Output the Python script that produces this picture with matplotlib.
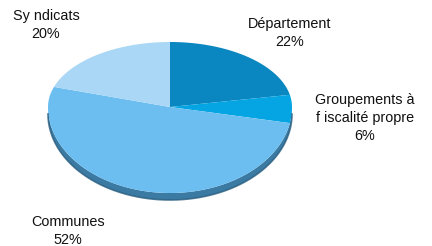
import numpy as np
import matplotlib
matplotlib.use("Agg")
import matplotlib.pyplot as plt
from matplotlib.patches import Polygon

# Data
categories = ["Département", "Groupements à\nf iscalité propre", "Communes", "Sy ndicats"]
values = [22, 6, 52, 20]
labels = ["Département\n22%", "Groupements à\nf iscalité propre\n6%", "Communes\n52%", "Sy ndicats\n20%"]
colors = ["#0A87C0", "#04A5E2", "#6CBEF0", "#AAD7F5"]

W, H = 432, 246
fig = plt.figure(figsize=(W / 100, H / 100), dpi=100)
ax = fig.add_axes([0, 0, 1, 1])
ax.set_xlim(0, W)
ax.set_ylim(H, 0)
ax.axis("off")

cx, cy = 170, 107
rx, ry_top, ry_bot = 122, 65, 86
depth = 7


def pt(theta_deg, dy=0.0):
    t = np.radians(theta_deg)
    c = np.cos(t)
    ry = np.where(c >= 0, ry_top, ry_bot)
    return cx + rx * np.sin(t), cy - ry * c + dy


# side (lower half)
th = np.linspace(90, 270, 200)
x1, y1 = pt(th)
x2, y2 = pt(th[::-1], depth)
side = Polygon(np.column_stack([np.r_[x1, x2], np.r_[y1, y2]]),
               closed=True, fc="#3B7BA3", ec="none")
ax.add_patch(side)
xb, yb = pt(th, depth)
ax.plot(xb, yb, color="#2A5E80", lw=1.2, alpha=0.8)

# top faces
total = sum(values)
start = 0.0
for v, col in zip(values, colors):
    span = 360.0 * v / total
    th = np.linspace(start, start + span, max(int(span * 2), 4))
    xs, ys = pt(th)
    poly = Polygon(np.column_stack([np.r_[cx, xs], np.r_[cy, ys]]),
                   closed=True, fc=col, ec="none")
    ax.add_patch(poly)
    start += span

fs = 10.4
font = dict(family=["Liberation Sans", "DejaVu Sans"], fontsize=fs,
            ha="center", va="center", color="#111111", linespacing=1.35)
ax.text(46, 25, labels[3], **font)
ax.text(290, 33, labels[0], **font)
ax.text(365, 118, labels[1], **font)
ax.text(68, 231, labels[2], **font)

fig.savefig("out.png", dpi=100)
